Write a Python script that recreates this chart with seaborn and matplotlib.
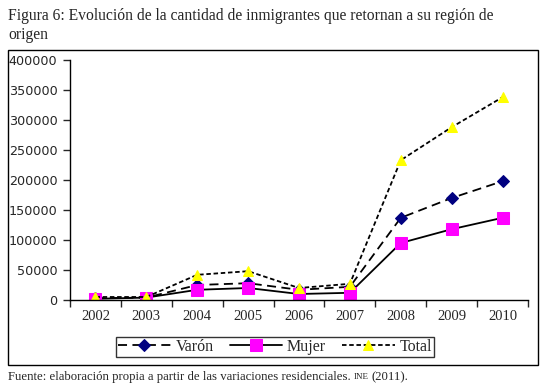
"""
Figura 6: inmigrantes que retornan a su región de origen (2002-2010)
"""
import pandas as pd
import matplotlib.pyplot as plt
import seaborn as sns
import numpy as np
from matplotlib.patches import Rectangle

# Data
years = ["2002", "2003", "2004", "2005", "2006", "2007", "2008", "2009", "2010"]
varon = [3000, 4000, 25000, 28000, 17000, 22000, 137000, 170000, 198000]
mujer = [2000, 4000, 17000, 20000, 10000, 12000, 95000, 118000, 137000]
total = [5000, 5000, 42000, 48000, 20000, 27000, 233000, 288000, 338000]

sns.set_style("white")
plt.rcParams["font.family"] = ["DejaVu Sans"]
serif = ["Liberation Serif", "DejaVu Serif"]

W, H = 547, 388
fig = plt.figure(figsize=(W / 100, H / 100), dpi=100)
ax = fig.add_axes([70 / W, 1 - 300 / H, (528 - 70) / W, 240 / H])

pos = np.arange(len(years))
df = pd.DataFrame({"pos": pos, "Varón": varon, "Mujer": mujer, "Total": total})

sns.lineplot(ax=ax, data=df, x="pos", y="Varón", color="black", lw=1.3,
             linestyle=(0, (5, 3)), marker="D", markersize=6,
             markerfacecolor="#000080", markeredgecolor="#000080", label="Varón")
sns.lineplot(ax=ax, data=df, x="pos", y="Mujer", color="black", lw=1.3,
             marker="s", markersize=8, markerfacecolor="#FF00FF",
             markeredgecolor="#FF00FF", label="Mujer")
sns.lineplot(ax=ax, data=df, x="pos", y="Total", color="black", lw=1.3,
             linestyle=(0, (2.5, 1.5)), marker="^", markersize=7,
             markerfacecolor="#FFFF00", markeredgecolor="#FFFF00", label="Total")

ax.set_xlim(-0.5, len(years) - 0.5)
ax.set_ylim(0, 400000)
ax.set_yticks(np.arange(0, 400001, 50000))
ax.set_yticklabels([str(v) for v in range(0, 400001, 50000)], fontsize=9.2)
ax.set_xticks(np.arange(-0.5, len(years), 1.0))
ax.set_xticklabels([])
ax.set_xticks(pos, minor=True)
ax.set_xticklabels(years, minor=True, fontsize=10.5, family=serif)
ax.tick_params(axis="x", which="major", direction="out", length=5, width=1, bottom=True)
ax.tick_params(axis="x", which="minor", length=0, pad=7)
ax.tick_params(axis="y", direction="out", length=5, width=1, left=True, pad=4)
ax.set_xlabel("")
ax.set_ylabel("")
for s in ["top", "right"]:
    ax.spines[s].set_visible(False)
for s in ["left", "bottom"]:
    ax.spines[s].set_color("black")
    ax.spines[s].set_linewidth(1)

leg = ax.legend(loc="center", bbox_to_anchor=(275 / W, 1 - 347 / H),
                bbox_transform=fig.transFigure, ncol=3, frameon=True,
                fancybox=False, prop={"family": serif, "size": 11.5},
                handlelength=3.3, handletextpad=0.3, columnspacing=1.0,
                borderpad=0.15, borderaxespad=0)
leg.get_frame().set_edgecolor("black")
leg.get_frame().set_linewidth(1)

# outer chart frame
fig.patches.append(Rectangle((8 / W, 1 - 365 / H), 530 / W, 315 / H,
                             transform=fig.transFigure, fill=False,
                             edgecolor="black", lw=1))

fig.text(8 / W, 1 - 16 / H,
         "Figura 6: Evolución de la cantidad de inmigrantes que retornan a su región de",
         family=serif, fontsize=11.25, va="center", ha="left")
fig.text(8 / W, 1 - 35 / H, "origen", family=serif, fontsize=11.25, va="center", ha="left")

foot = fig.text(8 / W, 1 - 377 / H,
                "Fuente: elaboración propia a partir de las variaciones residenciales. ",
                family=serif, fontsize=9.2, va="center", ha="left")
fig.canvas.draw()
bb = foot.get_window_extent()
t2 = fig.text(bb.x1 / W, 1 - 377 / H, "INE", family=serif, fontsize=6.5,
              va="center", ha="left")
fig.canvas.draw()
bb2 = t2.get_window_extent()
fig.text(bb2.x1 / W + 2 / W, 1 - 377 / H, "(2011).", family=serif, fontsize=9.2,
         va="center", ha="left")

fig.savefig("out.png", dpi=100)
